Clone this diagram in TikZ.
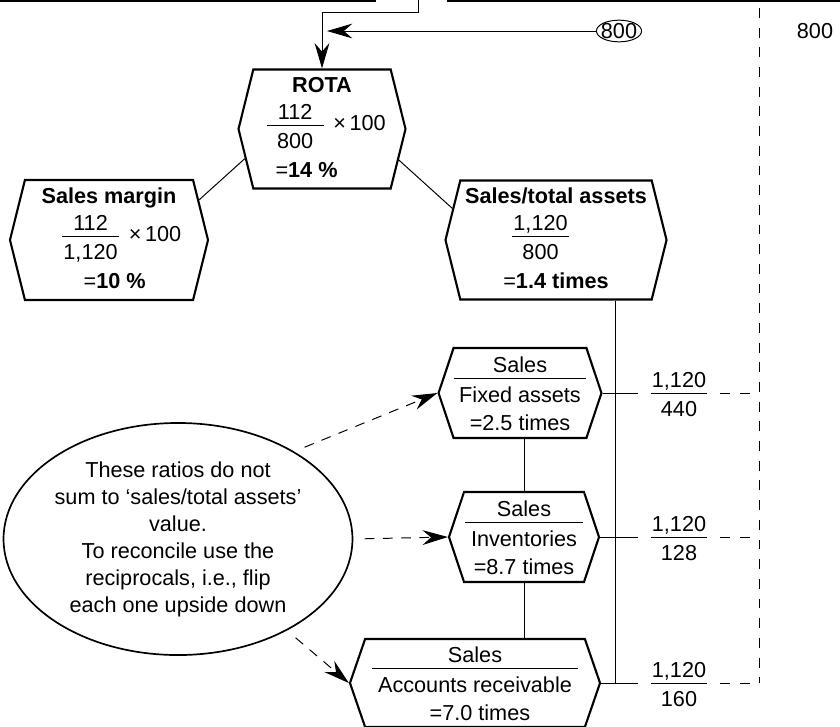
\documentclass[tikz,border=0pt]{standalone}
\usepackage{fontspec}
\setmainfont{Liberation Sans}
\usetikzlibrary{
    shapes.symbols,
    shapes.geometric,
    arrows.meta
}
\tikzset{
    >={Stealth[length=18pt,width=10.5pt,inset=6pt]},
    ratiobox/.style={
        shape=signal,
        signal to=west and east,
        signal pointer angle=#1,
        draw,
        line width=1.5pt,
        align=center,
        inner sep=0pt
    },
    ratiobox/.default=152,
    ring/.style={
        ellipse,
        draw,
        line width=0.7pt,
        inner xsep=-1.5pt,
        inner ysep=0pt
    },
    note/.style={
        ellipse,
        draw,
        line width=1.2pt,
        align=center,
        minimum width=8.35cm,
        minimum height=5.8cm,
        inner sep=0pt
    },
    link/.style={line width=0.7pt},
    guide/.style={line width=0.7pt, dash pattern=on 7pt off 7pt},
    hint/.style={->, line width=0.7pt, dash pattern=on 7pt off 6pt, shorten <=8pt}
}
\newcommand{\rowstrut}{\rule[-4pt]{0pt}{16pt}}
\newcommand{\fracrows}[3]{%
    {\renewcommand{\arraystretch}{0}%
    \setlength{\arrayrulewidth}{0.7pt}%
    \begin{tabular}{@{\hspace{#1}}c@{\hspace{#1}}}
        \rule[-3.8pt]{0pt}{20.2pt}#2\\ \hline
        \rule[-4pt]{0pt}{20.2pt}#3
    \end{tabular}}}
\newcommand{\ratiofrac}[2]{\fracrows{0pt}{\makebox[40.5pt]{#1}}{\makebox[40.5pt]{#2}}}
\newcommand{\salesover}[1]{\fracrows{4pt}{Sales}{#1}}

\begin{document}
\begin{tikzpicture}[
    x=0.025cm,
    y=-0.025cm,
    font=\fontsize{15.4}{19.2}\selectfont
]
    \useasboundingbox (0,0) rectangle (840,726);

    % Cajas cortadas arriba
    \draw[line width=2pt] (0,1) -- (376,1);
    \draw[line width=2pt] (447,1) -- (840,1);

    % Ratios
    \node[ratiobox, minimum width=4.175cm, minimum height=2.975cm] (rota) at (322,129)
        {\rowstrut\textbf{ROTA}\\[-1.9pt]
         \kern6pt\ratiofrac{112}{800}\hspace{7pt}×\,100\\[3.2pt]
         \rowstrut=\textbf{14 \%}\kern22pt};
    \node[ratiobox, minimum width=4.95cm, minimum height=3cm] (margin) at (109,240)
        {\rowstrut\textbf{Sales margin}\\[-1.9pt]
         \kern18pt\ratiofrac{112}{1,120}\hspace{7pt}×\,100\\[3.2pt]
         \kern8pt\rowstrut=\textbf{10 \%}};
    \node[ratiobox, minimum width=5.525cm, minimum height=2.975cm] (assets) at (556,240)
        {\rowstrut\textbf{Sales/total assets}\\[-1.9pt]
         \ratiofrac{1,120}{800}\kern22pt\\[3.2pt]
         \rowstrut=\textbf{1.4 times}};
    \node[ratiobox=143, minimum width=3.975cm, minimum height=2.25cm] (fixed) at (520,393)
        {\salesover{Fixed assets}\\[3.2pt] \rowstrut=2.5 times};
    \node[ratiobox=143, minimum width=3.75cm, minimum height=2.25cm] (inv) at (524,537)
        {\salesover{Inventories}\\[3.2pt] \rowstrut=8.7 times};
    \node[ratiobox=142, minimum width=6.25cm, minimum height=2.2cm] (accts) at (475,683)
        {\salesover{Accounts receivable}\\[3.2pt] \kern7pt\rowstrut=7.0 times};

    % Entrada de arriba
    \coordinate (feed) at (418,0);
    \coordinate (bend) at (322,12);
    \coordinate (join) at (327,31);
    \node[ring] (ring) at (619,31) {800};
    \node (total) at (815,31) {800};
    \draw[link, ->] (feed) -- (feed |- bend) -- (bend) -- (rota.north);
    \draw[link, ->] (ring) -- (join);

    % Arbol
    \draw[link] (rota.201) -- (margin.24);
    \draw[link] (rota.-22) -- (assets.163);
    \draw[link] (inv.north |- fixed.south) -- (inv.north);
    \draw[link] (inv.south) -- (inv.south |- accts.north);

    % Reciprocos
    \coordinate (spine) at (615,0);
    \coordinate (qx) at (679,0);
    \coordinate (dtop) at (759,8);
    \node[inner xsep=9pt] (q1) at (fixed.east -| qx) {\ratiofrac{1,120}{440}};
    \node[inner xsep=9pt] (q2) at (inv.east -| qx) {\ratiofrac{1,120}{128}};
    \node[inner xsep=9pt] (q3) at (accts.east -| qx) {\ratiofrac{1,120}{160}};
    \draw[link] (assets.south -| spine) -- (accts.east -| spine);
    \draw[link] (fixed.east) -- (q1);
    \draw[link] (inv.east) -- (q2);
    \draw[link] (accts.east) -- (q3);
    \draw[guide] (q1) -- (q1 -| dtop);
    \draw[guide] (q2) -- (q2 -| dtop);
    \draw[guide] (q3) -- (q3 -| dtop);
    \draw[guide] (dtop) -- (dtop |- q3);

    % Nota
    \node[note] (note) at (178,539)
        {These ratios do not\\ sum to ‘sales/total assets’\\ value.\\ To reconcile use the\\ reciprocals, i.e., flip\\ each one upside down};
    \draw[hint] (note.37) -- (fixed.west);
    \draw[hint] (note.east) -- (inv.west);
    \draw[hint] (note.-40) -- (accts.west);

\end{tikzpicture}
\end{document}
